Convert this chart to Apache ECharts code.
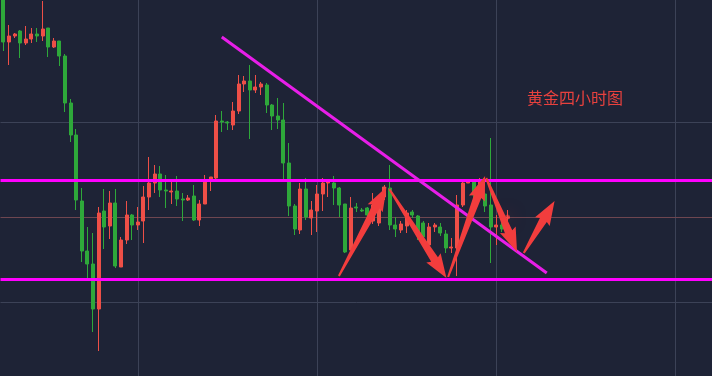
<!DOCTYPE html>
<html>
<head>
<meta charset="utf-8">
<title>黄金四小时图</title>
<script src="https://cdn.jsdelivr.net/npm/echarts@6/dist/echarts.min.js"></script>
<style>
  html, body { margin: 0; padding: 0; background: #1e2336; }
  #chart { width: 712px; height: 376px; }
</style>
</head>
<body>
<div id="chart"></div>
<script>
// 4小时K线 (开, 收, 低, 高)
var candleOpen = [1980.6, 1975.8, 1976.4, 1976.9, 1975.7, 1976.1, 1976.6, 1976.4, 1977.2, 1975.3,
  1975.9, 1974.4, 1969.7, 1966.5, 1959.9, 1954.9, 1953.6, 1949.1, 1958.9, 1957.4,
  1959.7, 1953.3, 1956.0, 1958.5, 1957.5, 1957.9, 1960.3, 1961.7, 1962.6, 1961.0,
  1960.8, 1960.9, 1960.1, 1960.0, 1960.4, 1958.0, 1959.6, 1962.1, 1962.2, 1967.9,
  1967.8, 1967.5, 1968.9, 1971.6, 1971.9, 1971.0, 1971.3, 1971.5, 1969.5, 1968.4,
  1968.0, 1963.7, 1959.4, 1957.0, 1961.1, 1958.2, 1958.9, 1960.6, 1961.7, 1961.7,
  1961.2, 1959.6, 1955.0, 1959.3, 1959.0, 1959.2, 1957.9, 1957.7, 1960.3, 1961.2,
  1957.5, 1957.0, 1957.4, 1958.8, 1958.4, 1957.7, 1955.5, 1957.3, 1957.3, 1956.6,
  1955.2, 1955.2, 1959.5, 1961.7, 1961.8, 1960.7, 1960.6, 1959.5, 1957.3, 1957.5,
  1958.2]
var candleClose = [1975.8, 1976.4, 1976.6, 1975.7, 1976.1, 1976.6, 1976.4, 1977.1, 1975.3, 1975.9,
  1974.4, 1969.7, 1966.5, 1960.0, 1954.9, 1953.6, 1949.1, 1958.7, 1957.3, 1959.7,
  1953.4, 1956.0, 1958.5, 1957.5, 1957.8, 1960.3, 1961.7, 1962.6, 1961.0, 1960.9,
  1960.9, 1960.1, 1960.0, 1960.2, 1958.0, 1959.6, 1962.0, 1962.3, 1967.9, 1967.8,
  1967.7, 1968.9, 1971.6, 1971.9, 1971.0, 1971.3, 1971.6, 1969.5, 1968.4, 1968.0,
  1963.7, 1959.4, 1957.1, 1961.1, 1958.3, 1959.0, 1960.6, 1961.7, 1961.8, 1961.2,
  1959.5, 1954.8, 1959.2, 1959.2, 1958.9, 1958.5, 1959.5, 1960.3, 1961.3, 1957.5,
  1957.1, 1957.6, 1958.7, 1958.5, 1956.8, 1956.3, 1957.3, 1957.5, 1956.7, 1955.2,
  1955.3, 1959.5, 1961.7, 1961.8, 1960.5, 1962.0, 1959.4, 1957.3, 1957.5, 1957.1,
  1958.3]
var candleLow = [1974.9, 1973.5, 1976.2, 1974.2, 1975.5, 1975.7, 1975.8, 1975.9, 1974.3, 1975.2,
  1973.4, 1968.8, 1965.8, 1959.0, 1953.8, 1952.2, 1946.8, 1944.9, 1955.1, 1956.1,
  1953.2, 1953.3, 1955.6, 1956.0, 1957.0, 1955.7, 1959.0, 1960.7, 1960.3, 1959.2,
  1959.6, 1959.4, 1957.9, 1959.9, 1957.9, 1957.4, 1959.6, 1960.9, 1962.1, 1966.8,
  1967.0, 1967.0, 1968.6, 1970.8, 1966.1, 1970.7, 1970.5, 1968.7, 1967.0, 1967.1,
  1962.1, 1958.4, 1956.5, 1956.6, 1958.0, 1956.5, 1956.8, 1958.9, 1960.3, 1959.5,
  1958.3, 1954.7, 1955.0, 1958.8, 1958.8, 1958.3, 1957.6, 1957.4, 1960.0, 1957.0,
  1956.3, 1956.7, 1956.7, 1958.2, 1956.0, 1955.2, 1955.3, 1956.8, 1956.4, 1954.7,
  1954.7, 1952.4, 1959.3, 1961.7, 1960.2, 1960.4, 1958.8, 1953.7, 1955.5, 1956.8,
  1957.3]
var candleHigh = [1981.0, 1977.5, 1976.7, 1977.0, 1977.4, 1977.2, 1977.2, 1979.9, 1977.2, 1976.2,
  1975.9, 1974.6, 1970.1, 1967.1, 1961.2, 1957.3, 1956.7, 1959.3, 1961.1, 1960.9,
  1961.1, 1956.3, 1959.9, 1958.6, 1959.3, 1961.4, 1964.3, 1963.5, 1963.4, 1962.5,
  1961.8, 1962.4, 1960.7, 1960.5, 1961.5, 1960.0, 1962.5, 1962.3, 1968.5, 1968.9,
  1967.9, 1969.8, 1972.5, 1972.4, 1973.5, 1972.5, 1971.8, 1971.7, 1969.6, 1970.2,
  1969.7, 1965.7, 1959.6, 1961.7, 1962.2, 1959.9, 1961.5, 1962.2, 1961.9, 1962.4,
  1961.3, 1959.6, 1960.3, 1959.7, 1959.2, 1959.3, 1960.7, 1960.5, 1961.5, 1963.5,
  1958.3, 1957.9, 1959.0, 1959.0, 1958.5, 1957.9, 1957.7, 1957.7, 1957.7, 1957.0,
  1956.2, 1960.5, 1961.8, 1962.0, 1962.0, 1962.2, 1961.0, 1966.2, 1958.5, 1957.7,
  1959.0]

// 支撑/压力线
var resistPrice = 1962.0
var supportPrice = 1952.1
var lastPrice = 1958.3
// 背景网格位置
var gridBars = [24, 56, 88, 120]
var gridPrices = [1967.8, 1949.8]
// 下降趋势线 [K线序号, 价格]
var trendStart = [39, 1976.3]
var trendEnd = [97, 1952.7]
// 箭头 [起点序号, 起点价, 终点序号, 终点价]
var arrows = [
  [59.9, 1952.4, 68.4, 1961.3],
  [68.9, 1961.1, 79.1, 1952.2],
  [79.4, 1952.3, 86.0, 1962.4],
  [86.2, 1962.2, 91.7, 1954.8],
  [92.9, 1954.7, 98.4, 1959.9]
]
var totalBars = 127

// 时间轴 (4小时一根)
var categories = []
var t0 = Date.UTC(2023, 9, 2, 0)
for (var i = 0; i < totalBars; i++) {
  var d = new Date(t0 + i * 4 * 3600 * 1000)
  categories.push((d.getUTCMonth() + 1) + '/' + d.getUTCDate() + ' ' + d.getUTCHours() + ':00')
}

var kData = []
for (var k = 0; k < candleOpen.length; k++) {
  kData.push([candleOpen[k], candleClose[k], candleLow[k], candleHigh[k]])
}

var gridLines = []
gridBars.forEach(function (b) { gridLines.push({ xAxis: b }) })
gridPrices.forEach(function (p) { gridLines.push({ yAxis: p }) })
gridLines.push({ yAxis: lastPrice, lineStyle: { color: '#6e4650' } })

var upColor = '#ee4f47'
var downColor = '#2ea83a'
var arrowColor = '#f23d3d'
var magenta = '#ff00ff'

function renderArrow (params, api) {
  var p0 = api.coord([api.value(0), api.value(1)])
  var p1 = api.coord([api.value(2), api.value(3)])
  var dx = p1[0] - p0[0]
  var dy = p1[1] - p0[1]
  var len = Math.sqrt(dx * dx + dy * dy)
  var ux = dx / len, uy = dy / len
  var nx = -uy, ny = ux
  var headLen = 22, headW = 8.5, neckW = 4, tailW = 1
  var bx = p1[0] - ux * headLen, by = p1[1] - uy * headLen
  var pts = [
    [p0[0] + nx * tailW, p0[1] + ny * tailW],
    [bx + nx * neckW, by + ny * neckW],
    [bx - ux * 2 + nx * headW, by - uy * 2 + ny * headW],
    p1,
    [bx - ux * 2 - nx * headW, by - uy * 2 - ny * headW],
    [bx - nx * neckW, by - ny * neckW],
    [p0[0] - nx * tailW, p0[1] - ny * tailW]
  ]
  return { type: 'polygon', shape: { points: pts }, style: { fill: arrowColor } }
}

var chart = echarts.init(document.getElementById('chart'))
chart.setOption({
  animation: false,
  backgroundColor: '#1e2336',
  grid: { left: 0.5, top: 0, width: totalBars * 5.625, height: 376 },
  xAxis: [
    { type: 'category', data: categories, boundaryGap: true, show: false },
    { type: 'value', min: -0.5, max: totalBars - 0.5, show: false }
  ],
  yAxis: { type: 'value', min: 1942.4, max: 1980, show: false, splitLine: { show: false } },
  graphic: [{
    type: 'text',
    left: 527,
    top: 90,
    style: {
      text: '黄金四小时图',
      fill: '#e8413e',
      font: '16px "Noto Sans CJK SC"'
    }
  }],
  series: [
    {
      type: 'line',
      xAxisIndex: 0,
      data: [],
      z: 1,
      markLine: {
        silent: true,
        symbol: 'none',
        z: 1,
        label: { show: false },
        lineStyle: { color: '#3c4257', width: 1, type: 'solid' },
        data: gridLines
      }
    },
    {
      name: '黄金',
      type: 'candlestick',
      xAxisIndex: 0,
      barWidth: 3.5,
      data: kData,
      itemStyle: {
        color: upColor,
        color0: downColor,
        borderColor: upColor,
        borderColor0: downColor,
        borderWidth: 1
      },
      markLine: {
        silent: true,
        symbol: 'none',
        label: { show: false },
        lineStyle: { color: magenta, width: 3, type: 'solid' },
        data: [
          { yAxis: resistPrice },
          { yAxis: supportPrice },
          [
            { coord: [trendStart[0], trendStart[1]], lineStyle: { color: '#e81ee8', width: 3 } },
            { coord: [trendEnd[0], trendEnd[1]] }
          ]
        ]
      }
    },
    {
      type: 'scatter',
      xAxisIndex: 1,
      symbolSize: 5,
      data: [[candleOpen.length - 1, lastPrice]],
      itemStyle: {
        color: 'rgba(255,70,70,0.7)',
        shadowBlur: 16,
        shadowColor: 'rgba(255,50,50,0.9)'
      },
      z: 4
    },
    {
      type: 'custom',
      xAxisIndex: 1,
      renderItem: renderArrow,
      encode: { x: [0, 2], y: [1, 3] },
      data: arrows,
      z: 10
    }
  ]
})
</script>
</body>
</html>
